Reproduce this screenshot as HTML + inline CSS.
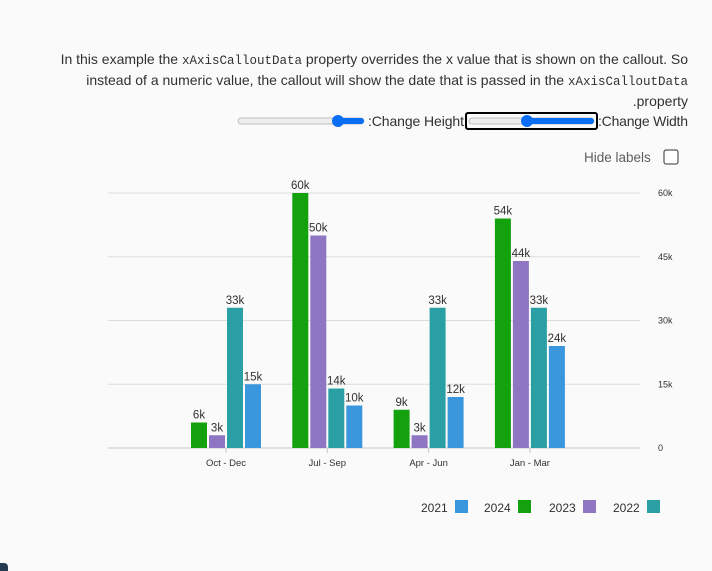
<!DOCTYPE html>
<html><head><meta charset="utf-8"><style>
body{margin:0;width:712px;height:571px;background:#fafafa;font-family:"Segoe UI","Liberation Sans",sans-serif;color:#323130;position:relative;overflow:hidden}
.p{position:absolute;right:24px;text-align:right;font-size:14px;line-height:21px;width:680px;white-space:nowrap}
code{font-family:"Liberation Mono",monospace;font-size:12.5px;line-height:10px}
</style></head><body>
<div class="p" style="top:49px">In this example the <code>xAxisCalloutData</code> property overrides the x value that is shown on the callout. So<br>instead of a numeric value, the callout will show the date that is passed in the <code>xAxisCalloutData</code><br>.property</div>
<svg width="712" height="571" style="position:absolute;left:0;top:0" id="s">
<g>
<rect x="238" y="118" width="126" height="6" rx="3" fill="#eee" stroke="#aaa" stroke-width="0.7"/>
<rect x="335" y="118" width="29" height="6" rx="3" fill="#0a6ef5"/>
<circle cx="338" cy="121" r="6" fill="#0a6ef5"/></g>
<text x="368" y="126" font-size="14" fill="#323130" textLength="96">:Change Height</text>
<g>
<rect x="466" y="113" width="131" height="16" rx="2" fill="none" stroke="#000" stroke-width="2"/>
<rect x="469" y="118" width="125" height="6" rx="3" fill="#eee" stroke="#aaa" stroke-width="0.7"/>
<rect x="524" y="118" width="70" height="6" rx="3" fill="#0a6ef5"/>
<circle cx="527" cy="121" r="6" fill="#0a6ef5"/></g>
<text x="598" y="126" font-size="14" fill="#323130" textLength="90">:Change Width</text>
<text x="584" y="162" font-size="13.5" fill="#605e5c">Hide labels</text>
<rect x="664" y="150" width="14" height="14" rx="2" fill="#fff" stroke="#323130"/>
<g id="chart"></g>
<rect x="-6" y="563" width="14" height="14" rx="4" fill="#243a4e"/>
</svg>
<script>
const categories=["Oct - Dec","Jul - Sep","Apr - Jun","Jan - Mar"];
const series=["2024","2023","2022","2021"];
const s2024=[6,60,9,54];
const s2023=[3,50,3,44];
const s2022=[33,14,33,33];
const s2021=[15,10,12,24];
const yTicks=[0,15,30,45,60];
const colors=["#13a10e","#8e76c3","#2aa0a4","#3a96dd"];
const legendOrder=[3,0,1,2];
const NS="http://www.w3.org/2000/svg";
const g=document.getElementById('chart');
const y=v=>448-v*255/60;
const x=i=>226+i*101.3;
function el(t,a){const e=document.createElementNS(NS,t);for(const k in a)e.setAttribute(k,a[k]);g.appendChild(e);return e;}
yTicks.forEach(t=>{
 const l=el('line',{x1:108,x2:640,y1:y(t),y2:y(t),stroke:t?'#dcdcdc':'#c8c8c8'});
 
 
 const tx=el('text',{x:658,y:y(t)+3,'font-size':9,fill:'#323130'});tx.textContent=t?t+'k':'0';
 
 
});
const vals=[s2024,s2023,s2022,s2021];
categories.forEach((c,i)=>{
 const cx=x(i);
 el('line',{x1:cx,x2:cx,y1:448,y2:453,stroke:'#c8c8c8'});
 const t=el('text',{x:cx,y:466,'font-size':9.5,'text-anchor':'middle',fill:'#323130'});t.textContent=c;
 
 
 vals.forEach((s,j)=>{
  const bx=cx-35+j*18,v=s[i];
  const r=el('rect',{x:bx,y:y(v),width:16,height:448-y(v),fill:colors[j]});
  
  
  const lb=el('text',{x:bx+8,y:y(v)-4,'font-size':11.5,'text-anchor':'middle',fill:'#323130'});lb.textContent=v+'k';
  
  
 });
});
const lx=[421,484,549,613];
legendOrder.forEach((j,k)=>{
 const t=el('text',{x:lx[k],y:512,'font-size':12,fill:'#323130'});t.textContent=series[j];
 
 
 const r=el('rect',{x:lx[k]+34,y:500,width:13,height:13,fill:colors[j]});
 
 
});
</script>
</body></html>
